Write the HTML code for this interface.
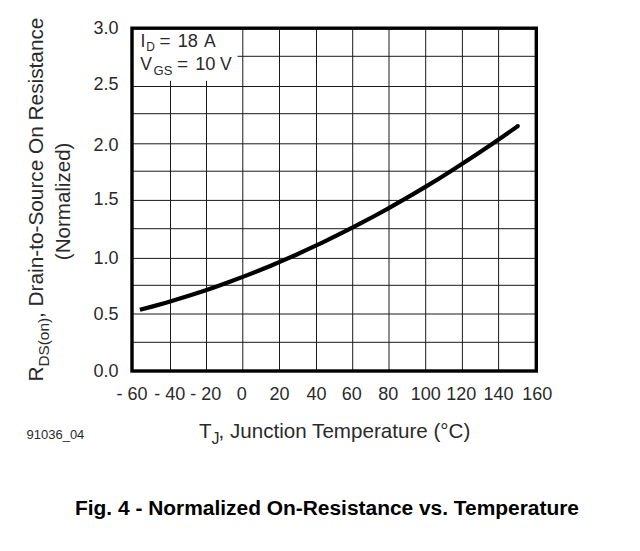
<!DOCTYPE html>
<html><head><meta charset="utf-8"><style>
html,body{margin:0;padding:0;background:#fff;}
svg{display:block;}
text{font-family:"Liberation Sans",Arial,Helvetica,sans-serif;fill:#2a2a2a;}
</style></head><body>
<svg width="640" height="551" viewBox="0 0 640 551">
<rect width="640" height="551" fill="#fff"/>
<g stroke="#1a1a1a" stroke-width="1" fill="none">
<line x1="170.5" y1="80.8" x2="170.5" y2="371.0"/>
<line x1="206.5" y1="80.8" x2="206.5" y2="371.0"/>
<line x1="242.8" y1="28.2" x2="242.8" y2="371.0"/>
<line x1="279.5" y1="28.2" x2="279.5" y2="371.0"/>
<line x1="316.5" y1="28.2" x2="316.5" y2="371.0"/>
<line x1="352.7" y1="28.2" x2="352.7" y2="371.0"/>
<line x1="389" y1="28.2" x2="389" y2="371.0"/>
<line x1="425.7" y1="28.2" x2="425.7" y2="371.0"/>
<line x1="462.4" y1="28.2" x2="462.4" y2="371.0"/>
<line x1="498.6" y1="28.2" x2="498.6" y2="371.0"/>
<line x1="237.5" y1="56.3" x2="536.3" y2="56.3"/>
<line x1="132" y1="86.5" x2="536.3" y2="86.5"/>
<line x1="132" y1="113.7" x2="536.3" y2="113.7"/>
<line x1="132" y1="143.8" x2="536.3" y2="143.8"/>
<line x1="132" y1="171.2" x2="536.3" y2="171.2"/>
<line x1="132" y1="200.4" x2="536.3" y2="200.4"/>
<line x1="132" y1="228.7" x2="536.3" y2="228.7"/>
<line x1="132" y1="258.4" x2="536.3" y2="258.4"/>
<line x1="132" y1="285.3" x2="536.3" y2="285.3"/>
<line x1="132" y1="314" x2="536.3" y2="314"/>
<line x1="132" y1="342.3" x2="536.3" y2="342.3"/>
</g>
<rect x="132" y="28.2" width="404.3" height="342.8" fill="none" stroke="#000" stroke-width="3.4"/>
<path d="M139.9,309.8 L152.9,306.4 L166.0,302.7 L179.0,298.8 L192.0,294.8 L205.1,290.5 L218.1,286.0 L231.1,281.3 L244.1,276.4 L257.2,271.3 L270.2,266.0 L283.2,260.4 L296.3,254.7 L309.3,248.7 L322.3,242.6 L335.4,236.2 L348.4,229.7 L361.4,222.9 L374.5,216.0 L387.5,208.8 L400.5,201.4 L413.6,193.9 L426.6,186.1 L439.6,178.2 L452.6,170.0 L465.7,161.6 L478.7,153.0 L491.7,144.3 L504.8,135.3 L517.8,126.1" fill="none" stroke="#000" stroke-width="4.2" stroke-linecap="butt" stroke-linejoin="round"/>
<circle cx="517.8" cy="126.1" r="2.1" fill="#000"/>
<text x="140.6" y="46.7" font-size="17.5">I</text>
<text x="146.2" y="51.0" font-size="12.5" textLength="8.63" lengthAdjust="spacingAndGlyphs">D</text>
<text x="159.62" y="46.7" font-size="17.5" textLength="11.03" lengthAdjust="spacingAndGlyphs">=</text>
<text x="177.66" y="46.7" font-size="17.5" textLength="20.23" lengthAdjust="spacingAndGlyphs">18</text>
<text x="204.1" y="46.7" font-size="17.5">A</text>
<text x="140.3" y="69.8" font-size="17.5">V</text>
<text x="153.6" y="75.0" font-size="12.5" textLength="18.87" lengthAdjust="spacingAndGlyphs">GS</text>
<text x="177.11" y="69.8" font-size="17.5" textLength="11.14" lengthAdjust="spacingAndGlyphs">=</text>
<text x="195.16" y="69.8" font-size="17.5" textLength="20.33" lengthAdjust="spacingAndGlyphs">10</text>
<text x="220.0" y="69.8" font-size="17.5">V</text>
<g font-size="18">
<text x="118.5" y="34.3" text-anchor="end">3.0</text>
<text x="118.5" y="90.0" text-anchor="end">2.5</text>
<text x="118.5" y="150.5" text-anchor="end">2.0</text>
<text x="118.5" y="205.3" text-anchor="end">1.5</text>
<text x="118.5" y="263.5" text-anchor="end">1.0</text>
<text x="118.5" y="319.5" text-anchor="end">0.5</text>
<text x="118.5" y="377.0" text-anchor="end">0.0</text>
<text x="132" y="400.2" text-anchor="middle">- 60</text>
<text x="169.7" y="400.2" text-anchor="middle">- 40</text>
<text x="205.7" y="400.2" text-anchor="middle">- 20</text>
<text x="241.8" y="400.2" text-anchor="middle">0</text>
<text x="279.5" y="400.2" text-anchor="middle">20</text>
<text x="316.5" y="400.2" text-anchor="middle">40</text>
<text x="351.8" y="400.2" text-anchor="middle">60</text>
<text x="388.3" y="400.2" text-anchor="middle">80</text>
<text x="425.7" y="400.2" text-anchor="middle">100</text>
<text x="461.2" y="400.2" text-anchor="middle">120</text>
<text x="498.6" y="400.2" text-anchor="middle">140</text>
<text x="537.2" y="400.2" text-anchor="middle">160</text>
</g>
<text x="26.5" y="439.4" font-size="13">91036_04</text>
<text x="199" y="438.2" font-size="20.6">T<tspan font-size="16" dy="5.4">J</tspan></text>
<text x="218.6" y="438.2" font-size="20.6">, Junction Temperature (°C)</text>
<g transform="rotate(-90)">
<text x="-381.6" y="43.3" font-size="21" textLength="364" lengthAdjust="spacingAndGlyphs">R<tspan font-size="15.5" dy="6">DS(on)</tspan><tspan dy="-6">, Drain-to-Source On Resistance</tspan></text>
<text x="-260.2" y="69.7" font-size="21" textLength="117.6" lengthAdjust="spacingAndGlyphs">(Normalized)</text>
</g>
<text x="75" y="515.3" font-size="20" font-weight="bold" style="fill:#000" textLength="504" lengthAdjust="spacingAndGlyphs">Fig. 4 - Normalized On-Resistance vs. Temperature</text>
</svg>
</body></html>
